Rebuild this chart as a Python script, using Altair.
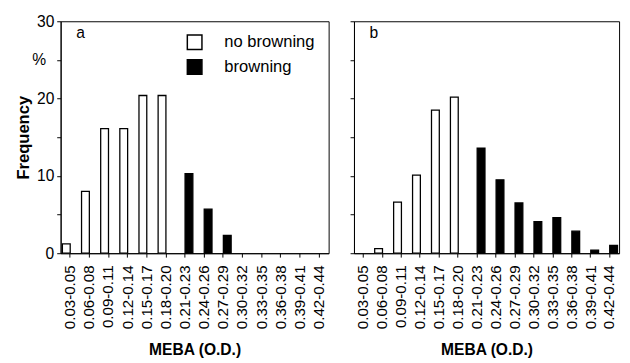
import altair as alt
import pandas as pd

categories = ["0.03-0.05", "0.06-0.08", "0.09-0.11", "0.12-0.14", "0.15-0.17",
              "0.18-0.20", "0.21-0.23", "0.24-0.26", "0.27-0.29", "0.30-0.32",
              "0.33-0.35", "0.36-0.38", "0.39-0.41", "0.42-0.44"]
series = ["no browning", "browning"]

# panel a
a_no_browning = [1.2, 8.0, 16.1, 16.1, 20.4, 20.4, 0, 0, 0, 0, 0, 0, 0, 0]
a_browning    = [0, 0, 0, 0, 0, 0, 10.3, 5.7, 2.3, 0, 0, 0, 0, 0]
# panel b
b_no_browning = [0, 0.6, 6.6, 10.1, 18.5, 20.2, 0, 0, 0, 0, 0, 0, 0, 0]
b_browning    = [0, 0, 0, 0, 0, 0, 13.6, 9.5, 6.5, 4.1, 4.6, 2.85, 0.4, 1.0]

panel_labels = ["a", "b"]
y_unit_label = ["%"]
y_ticks = [0, 5, 10, 15, 20, 25, 30]

FONT = "Liberation Sans"


def make_df(no_b, br):
    rows = []
    for c, v in zip(categories, no_b):
        if v > 0:
            rows.append({"cat": c, "series": series[0], "value": v})
    for c, v in zip(categories, br):
        if v > 0:
            rows.append({"cat": c, "series": series[1], "value": v})
    return pd.DataFrame(rows)


def panel(no_b, br, label, width, first):
    df = make_df(no_b, br)
    if first:
        legend = alt.Legend(
            orient="none", legendX=129, legendY=13, title=None,
            symbolType="square", symbolSize=225, symbolStrokeColor="black",
            symbolStrokeWidth=1.5, labelFontSize=17, labelFont=FONT,
            labelColor="black", rowPadding=4.5, labelOffset=22, padding=0,
        )
        yaxis = alt.Axis(
            values=y_ticks, title="Frequency", titleFontSize=17,
            titleFontWeight="bold", titleFont=FONT, titleColor="black",
            labelFontSize=16, labelFont=FONT, labelColor="black",
            labelExpr="datum.value % 10 == 0 ? datum.label : ''",
            tickSize=4, grid=False, domainColor="black", tickColor="black",
            titlePadding=4, labelPadding=3,
        )
    else:
        legend = None
        yaxis = alt.Axis(values=y_ticks, title=None, labels=False, tickSize=4,
                         grid=False, domainColor="black", tickColor="black")

    base = alt.Chart(df)
    bars = base.mark_bar(stroke="black", strokeWidth=1.3).encode(
        x=alt.X("cat:N", sort=categories,
                scale=alt.Scale(domain=categories, paddingInner=0, paddingOuter=0),
                axis=alt.Axis(title="MEBA (O.D.)", titleFontSize=16,
                              titleFontWeight="bold", titleFont=FONT,
                              titleColor="black", labelAngle=-90,
                              labelFontSize=15.5, labelFont=FONT,
                              labelColor="black", tickSize=4, labelPadding=8,
                              domainColor="black", tickColor="black",
                              titlePadding=13)),
        xOffset=alt.XOffset("series:N",
                            scale=alt.Scale(domain=series, paddingInner=0,
                                            paddingOuter=0.227)),
        y=alt.Y("value:Q", scale=alt.Scale(domain=[0, 30], nice=False),
                axis=yaxis),
        color=alt.Color("series:N",
                        scale=alt.Scale(domain=series, range=["white", "black"]),
                        legend=legend),
    )
    lab = alt.Chart(pd.DataFrame({"t": [label]})).mark_text(
        fontSize=16, font=FONT, color="black", align="left", baseline="alphabetic"
    ).encode(x=alt.value(16), y=alt.value(17), text="t:N")
    layers = [bars, lab]
    if first:
        pct = alt.Chart(pd.DataFrame({"t": y_unit_label})).mark_text(
            fontSize=16, font=FONT, color="black", align="center", baseline="middle"
        ).encode(x=alt.value(-22), y=alt.value(40), text="t:N")
        layers.append(pct)
    return alt.layer(*layers).properties(width=width, height=238)


chart = alt.hconcat(
    panel(a_no_browning, a_browning, panel_labels[0], 275, True),
    panel(b_no_browning, b_browning, panel_labels[1], 272, False),
    spacing=20,
).resolve_scale(color="independent").configure_view(
    stroke="black", strokeWidth=1
).properties(
    padding={"left": 6, "top": 0, "right": 2, "bottom": 0},
    background="white",
)

chart.save("out.html", embed_options={"renderer": "svg", "actions": False})
